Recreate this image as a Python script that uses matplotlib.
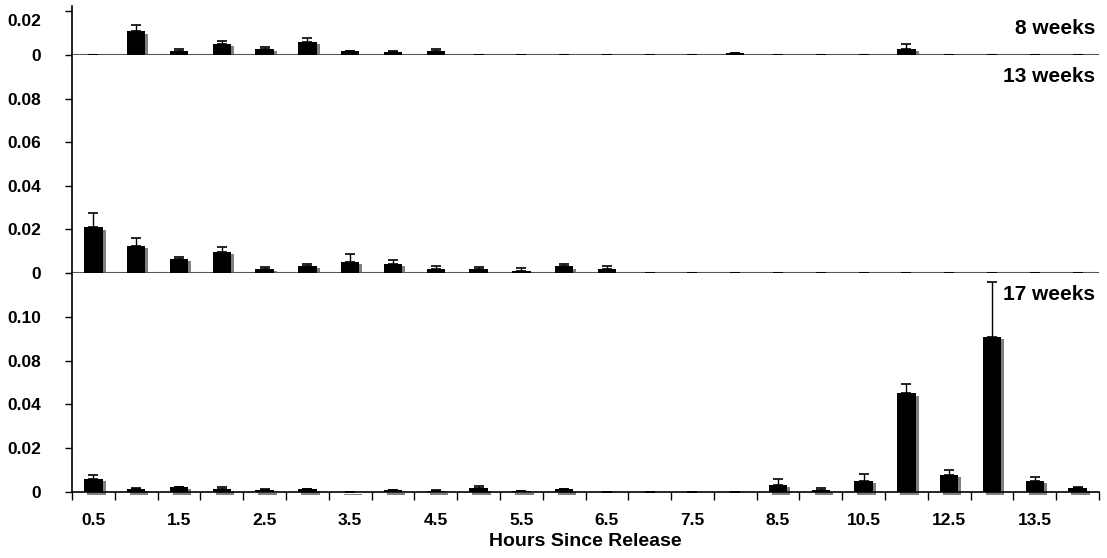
import numpy as np
import matplotlib
matplotlib.use("Agg")
import matplotlib.pyplot as plt
from matplotlib.transforms import ScaledTranslation

plt.rcParams['font.family'] = ['Liberation Sans', 'DejaVu Sans']
plt.rcParams['font.weight'] = 'bold'

hours = ['0.5', '1', '1.5', '2', '2.5', '3', '3.5', '4', '4.5', '5', '5.5', '6',
         '6.5', '7', '7.5', '8', '8.5', '9.5', '10.5', '11.5', '12.5', '13', '13.5', '14']

# 8 weeks
wk8 = [0, 0.0110, 0.0018, 0.0052, 0.0028, 0.0060, 0.0018, 0.0016, 0.0018, 0, 0, 0,
       0, 0, 0, 0.0009, 0, 0, 0, 0.0028, 0, 0, 0, 0]
wk8_err = [0, 0.0030, 0.0011, 0.0011, 0.0007, 0.0017, 0.0002, 0.0001, 0.0008, 0, 0, 0,
           0, 0, 0, 0.0001, 0, 0, 0, 0.0021, 0, 0, 0, 0]

# 13 weeks
wk13 = [0.0211, 0.0125, 0.0066, 0.0098, 0.0020, 0.0034, 0.0052, 0.0043, 0.0017, 0.0018, 0.0010, 0.0030,
        0.0018, 0, 0, 0, 0, 0, 0, 0, 0, 0, 0, 0]
wk13_err = [0.0063, 0.0034, 0.0006, 0.0020, 0.0006, 0.0006, 0.0035, 0.0015, 0.0013, 0.0009, 0.0012, 0.0012,
            0.0012, 0, 0, 0, 0, 0, 0, 0, 0, 0, 0, 0]

# 17 weeks
wk17 = [0.0060, 0.0015, 0.0023, 0.0014, 0.0009, 0.0014, 0.0002, 0.0008, 0.0005, 0.0018, 0.0005, 0.0013,
        0, 0, 0, 0, 0.0034, 0.0010, 0.0052, 0.0451, 0.0079, 0.0709, 0.0052, 0.0018]
wk17_err = [0.0017, 0.0005, 0.0001, 0.0008, 0.0006, 0.0001, 0, 0.0001, 0.0002, 0.0009, 0.0001, 0.0001,
            0, 0, 0, 0, 0.0024, 0.0006, 0.0031, 0.0042, 0.0020, 0.0250, 0.0015, 0.0006]

panels = [("8 weeks", wk8, wk8_err), ("13 weeks", wk13, wk13_err), ("17 weeks", wk17, wk17_err)]

fig = plt.figure(figsize=(11.07, 5.58), dpi=100)
W, H = 1107, 558
left, right = 72 / W, 1099 / W
boxes = [(6, 55, 0.0225), (55, 273, 0.1), (273, 492, 0.1)]  # top px, bottom px, ymax
label_y = [29, 77, 294]

x = np.arange(len(hours))
shadow = ScaledTranslation(3 / 100, -2.5 / 100, fig.dpi_scale_trans)
axes = []
for k, ((name, vals, errs), (t, b, ymax)) in enumerate(zip(panels, boxes)):
    ax = fig.add_axes([left, 1 - b / H, right - left, (b - t) / H])
    axes.append(ax)
    ax.bar(x, vals, width=0.43, color='#808080', zorder=1, clip_on=False,
           transform=ax.transData + shadow)
    if k < 2:
        ax.axhline(0, color='#555555', lw=1.5, zorder=1.5)
        ax.spines['bottom'].set_visible(False)
    ax.bar(x, vals, width=0.43, color='black', zorder=2)
    ax.errorbar(x, vals, yerr=[np.zeros(len(vals)), errs], fmt='none', ecolor='black',
                elinewidth=1, capsize=3.5, capthick=1.2, zorder=3, clip_on=False)
    ax.set_xlim(-0.5, len(hours) - 0.5)
    ax.set_ylim(0, ymax)
    for s in ['top', 'right']:
        ax.spines[s].set_visible(False)
    ax.spines['left'].set_linewidth(1.2)
    ax.tick_params(axis='y', direction='out', length=5, width=1, pad=17, labelsize=12.5)
    fig.text(1095 / W, 1 - label_y[k] / H, name, ha='right', va='center',
             fontsize=15, fontweight='bold', zorder=10)

# top panel
axes[0].set_yticks([0, 0.02], ['0', '0.02'])
lab = axes[0].get_yticklabels()[1]
lab.set_transform(lab.get_transform() + ScaledTranslation(0, -9 / 100, fig.dpi_scale_trans))
axes[0].set_xticks([])

# middle panel
axes[1].set_yticks([0, 0.02, 0.04, 0.06, 0.08], ['0', '0.02', '0.04', '0.06', '0.08'])
axes[1].set_xticks([])

# bottom panel (labels as printed in the original)
axes[2].set_yticks([0, 0.02, 0.04, 0.06, 0.08], ['0', '0.02', '0.04', '0.08', '0.10'])
axes[2].spines['bottom'].set_linewidth(1.2)
axes[2].set_xticks(np.arange(-0.5, len(hours)), [''] * (len(hours) + 1))
axes[2].set_xticks(x[::2], hours[::2], minor=True)
axes[2].tick_params(axis='x', which='major', direction='out', length=6, width=1)
axes[2].tick_params(axis='x', which='minor', length=0, pad=15, labelsize=12.5)

fig.text(585 / W, 1 - 542 / H, "Hours Since Release", ha='center', va='center',
         fontsize=14, fontweight='bold')

fig.savefig("out.png", dpi=100)
